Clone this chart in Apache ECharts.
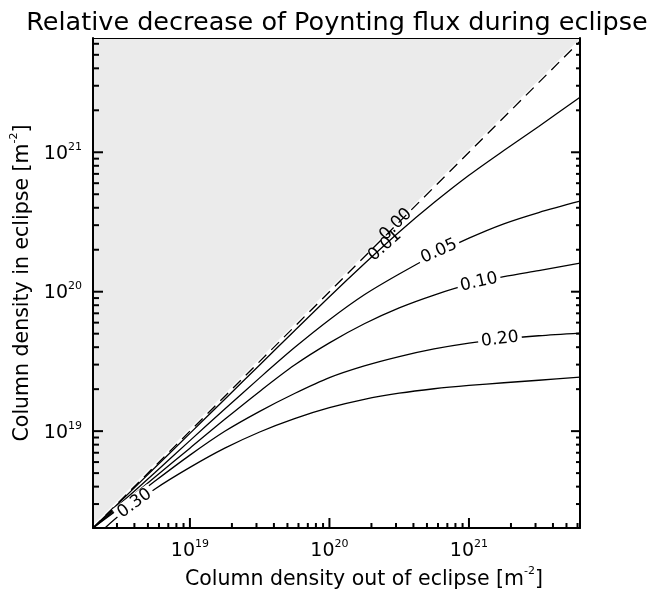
<!DOCTYPE html>
<html><head><meta charset="utf-8">
<script src="https://cdn.jsdelivr.net/npm/echarts@6/dist/echarts.min.js"></script>
<style>html,body{margin:0;padding:0;background:#fff}#c{width:650px;height:590px}</style>
</head><body><div id="c"></div>
<script>
// ---- data (column densities, m^-2) ----
const xOut = [2.02e18, 3.162e18, 5.623e18, 1e19, 1.778e19, 3.162e19, 5.623e19, 1e20, 1.778e20, 3.162e20, 5.623e20, 1e21, 1.778e21, 3.162e21, 6.25e21];
const c001 = [2.02e18, 3.12e18, 5.48e18, 9.64e18, 1.694e19, 2.985e19, 5.248e19, 9.20e19, 1.585e20, 2.679e20, 4.355e20, 6.839e20, 1.030e21, 1.531e21, 2.483e21];
const c005 = [2.02e18, 3.013e18, 5.047e18, 8.551e18, 1.439e19, 2.410e19, 3.972e19, 6.295e19, 9.506e19, 1.340e20, 1.832e20, 2.421e20, 3.069e20, 3.698e20, 4.457e20];
const c010 = [2.02e18, 2.911e18, 4.688e18, 7.551e18, 1.216e19, 1.928e19, 2.979e19, 4.295e19, 5.888e19, 7.656e19, 9.462e19, 1.127e20, 1.282e20, 1.419e20, 1.603e20];
const c020 = [2.02e18, 2.818e18, 4.385e18, 6.730e18, 9.977e18, 1.387e19, 1.862e19, 2.421e19, 2.938e19, 3.428e19, 3.890e19, 4.285e19, 4.592e19, 4.831e19, 5.047e19];
const c030x = [2.46e18, 3.162e18, 5.623e18, 1e19, 1.778e19, 3.162e19, 5.623e19, 1e20, 1.778e20, 3.162e20, 5.623e20, 1e21, 1.778e21, 3.162e21, 6.25e21];
const c030 = [2.02e18, 2.512e18, 3.846e18, 5.495e18, 7.551e18, 9.863e18, 1.230e19, 1.472e19, 1.690e19, 1.871e19, 2.014e19, 2.128e19, 2.223e19, 2.317e19, 2.438e19];
const diagonal = [2.02e18, 6.25e21];
const levelNames = ['0.00', '0.01', '0.05', '0.10', '0.20', '0.30'];
const labelX = [2.99e20, 2.50e20, 6.10e20, 1.18e21, 1.667e21, 4.02e18];
const labelY = [3.03e20, 2.14e20, 1.95e20, 1.17e20, 4.56e19, 3.03e18];
const labelAngle = [45, 42, 24, 13, 7, 36];
const xMin = 2.02e18, xMax = 6.25e21, yMin = 2.02e18, yMax = 6.6e21;
const majorTicks = [1e19, 1e20, 1e21];
const minorTicks = [3e18, 4e18, 5e18, 6e18, 7e18, 8e18, 9e18,
  2e19, 3e19, 4e19, 5e19, 6e19, 7e19, 8e19, 9e19,
  2e20, 3e20, 4e20, 5e20, 6e20, 7e20, 8e20, 9e20,
  2e21, 3e21, 4e21, 5e21, 6e21];
const titleText = 'Relative decrease of Poynting flux during eclipse';
const xName = 'Column density out of eclipse [m';
const yName = 'Column density in eclipse [m';

const FONT = 'DejaVu Sans';
const chart = echarts.init(document.getElementById('c'), null, {renderer: 'canvas'});

function pairs(xs, ys) { return xs.map((x, i) => [x, ys[i]]); }
function tickFmt(v) {
  const e = Math.log10(v);
  if (Math.abs(e - Math.round(e)) > 1e-6) return '';
  return '{b|10}{s|' + Math.round(e) + '}';
}
const tickRich = {
  b: {fontSize: 19, fontFamily: FONT, color: '#000', lineHeight: 22, verticalAlign: 'bottom'},
  s: {fontSize: 11, fontFamily: FONT, color: '#000', lineHeight: 22, verticalAlign: 'top'}
};
const nameRich = {
  n: {fontSize: 20.5, fontFamily: FONT, color: '#000', lineHeight: 24, verticalAlign: 'bottom'},
  s: {fontSize: 11, fontFamily: FONT, color: '#000', lineHeight: 24, verticalAlign: 'top'}
};

function curveSeries(xs, ys) {
  return {
    type: 'line', data: pairs(xs, ys), showSymbol: false, smooth: 0.3,
    lineStyle: {color: '#000', width: 1.3}, z: 3, silent: true, clip: true
  };
}

const option = {
  animation: false,
  title: {
    text: titleText, left: 332, top: 5, textAlign: 'center',
    textStyle: {fontFamily: FONT, fontSize: 25.5, fontWeight: 'normal', color: '#000'}
  },
  grid: {left: 93, right: 70, top: 38, bottom: 62, containLabel: false, outerBoundsMode: 'none'},
  xAxis: [{
    type: 'log', min: xMin, max: xMax, z: 10,
    axisLine: {show: true, lineStyle: {color: '#000', width: 2}},
    axisTick: {show: false}, splitLine: {show: false}, minorTick: {show: false},
    axisLabel: {formatter: tickFmt, rich: tickRich, margin: 11, showMinLabel: false, showMaxLabel: false},
    name: '{n|' + xName + '}{s|-2}{n|]}', nameLocation: 'middle', nameGap: 32,
    nameTextStyle: {rich: nameRich, padding: [0, 0, 0, 55]}
  }, {
    type: 'log', min: xMin, max: xMax, position: 'top', z: 10,
    axisLine: {show: true, onZero: false, lineStyle: {color: '#000', width: 1}},
    axisTick: {show: false}, axisLabel: {show: false}, splitLine: {show: false}
  }],
  yAxis: [{
    type: 'log', min: yMin, max: yMax, z: 10,
    axisLine: {show: true, lineStyle: {color: '#000', width: 2}},
    axisTick: {show: false}, splitLine: {show: false},
    axisLabel: {formatter: tickFmt, rich: tickRich, margin: 11, showMinLabel: false, showMaxLabel: false},
    name: '{n|' + yName + '}{s|-2}{n|]}', nameLocation: 'middle', nameGap: 60,
    nameTextStyle: {rich: nameRich}
  }, {
    type: 'log', min: yMin, max: yMax, position: 'right', z: 10,
    axisLine: {show: true, onZero: false, lineStyle: {color: '#000', width: 2}},
    axisTick: {show: false}, axisLabel: {show: false}, splitLine: {show: false}
  }],
  series: [
    {
      type: 'custom', z: 1, silent: true, data: [[xMin, yMin]],
      renderItem: function (params, api) {
        const p = [api.coord([xMin, yMin]), api.coord([xMax, xMax]), api.coord([xMax, yMax]), api.coord([xMin, yMax])];
        return {type: 'polygon', shape: {points: p}, style: {fill: '#ebebeb'}};
      }
    },
    {
      type: 'line', data: pairs(diagonal, diagonal), showSymbol: false, z: 2, silent: true,
      lineStyle: {color: '#fff', width: 4}
    },
    {
      type: 'line', data: pairs(diagonal, diagonal), showSymbol: false, z: 3, silent: true,
      lineStyle: {color: '#000', width: 1.3, type: [11, 7]}
    },
    curveSeries(xOut, c001),
    curveSeries(xOut, c005),
    curveSeries(xOut, c010),
    curveSeries(xOut, c020),
    curveSeries(c030x, c030),
    {
      type: 'custom', z: 5, silent: true, clip: false,
      data: levelNames.map((n, i) => [labelX[i], labelY[i], labelAngle[i], i]),
      renderItem: function (params, api) {
        const i = api.value(3);
        const p = api.coord([api.value(0), api.value(1)]);
        return {
          type: 'text', x: p[0], y: p[1], rotation: api.value(2) * Math.PI / 180,
          style: {
            text: levelNames[i], fill: '#000', font: '17px "DejaVu Sans"',
            align: 'center', verticalAlign: 'middle',
            backgroundColor: i < 2 ? null : '#fff', padding: [0, 3]
          }
        };
      }
    },
    {
      type: 'custom', z: 6, silent: true, clip: false, data: [[xMin, yMin]],
      renderItem: function (params, api) {
        const ch = [];
        const st = {stroke: '#000', lineWidth: 2};
        function add(a, b) { ch.push({type: 'line', shape: {x1: a[0], y1: a[1], x2: b[0], y2: b[1]}, style: st}); }
        const all = majorTicks.map(v => [v, true]).concat(minorTicks.map(v => [v, false]));
        all.forEach(([v, major]) => {
          if (v > xMin && v < xMax) {
            const p = api.coord([v, yMin]);
            add(p, [p[0], p[1] - (major ? 10 : 5)]);
          }
          if (v > yMin && v < yMax) {
            const l = api.coord([xMin, v]);
            add(l, [l[0] + (major ? 10 : 6), l[1]]);
            const r = api.coord([xMax, v]);
            add(r, [r[0] - (major ? 9 : 4), r[1]]);
          }
        });
        return {type: 'group', children: ch};
      }
    }
  ]
};
chart.setOption(option);
</script>
</body></html>
